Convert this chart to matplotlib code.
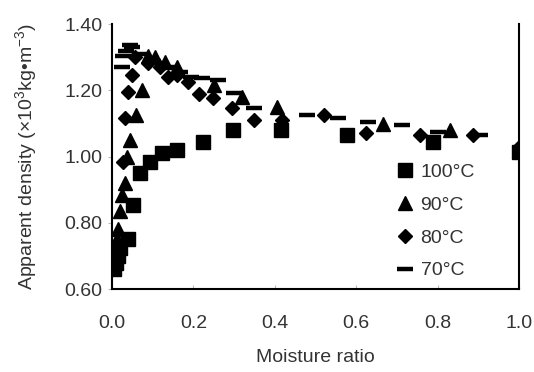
import matplotlib
matplotlib.use("Agg")
import matplotlib.pyplot as plt

plt.rcParams["font.family"] = ["Liberation Sans", "DejaVu Sans"]
plt.rcParams["mathtext.fontset"] = "custom"
plt.rcParams["mathtext.rm"] = "Liberation Sans"
plt.rcParams["mathtext.it"] = "Liberation Sans"

# 100 °C
x100 = [0.005, 0.01, 0.015, 0.02, 0.04, 0.052, 0.07, 0.093, 0.123, 0.16,
        0.224, 0.297, 0.415, 0.577, 0.789, 1.0]
y100 = [0.66, 0.68, 0.70, 0.725, 0.75, 0.855, 0.95, 0.985, 1.01, 1.02,
        1.045, 1.08, 1.08, 1.065, 1.045, 1.015]
# 90 °C
x90 = [0.012, 0.015, 0.02, 0.024, 0.032, 0.038, 0.045, 0.06, 0.074, 0.088,
       0.105, 0.13, 0.16, 0.25, 0.32, 0.405, 0.665, 0.83]
y90 = [0.75, 0.78, 0.835, 0.885, 0.92, 1.0, 1.05, 1.125, 1.2, 1.305,
       1.30, 1.285, 1.27, 1.215, 1.18, 1.15, 1.10, 1.08]
# 80 °C
x80 = [0.027, 0.032, 0.04, 0.05, 0.057, 0.088, 0.118, 0.138, 0.16, 0.187,
       0.213, 0.248, 0.295, 0.35, 0.418, 0.52, 0.625, 0.757, 0.887, 1.0]
y80 = [0.985, 1.117, 1.195, 1.245, 1.30, 1.283, 1.27, 1.24, 1.246, 1.225,
       1.19, 1.177, 1.147, 1.11, 1.11, 1.126, 1.07, 1.065, 1.065, 1.03]
# 70 °C
x70 = [0.025, 0.028, 0.035, 0.044, 0.05, 0.07, 0.1, 0.135, 0.167, 0.195,
       0.22, 0.26, 0.30, 0.35, 0.48, 0.555, 0.63, 0.712, 0.80, 0.905]
y70 = [1.27, 1.305, 1.32, 1.337, 1.33, 1.31, 1.29, 1.27, 1.256, 1.24,
       1.237, 1.23, 1.192, 1.147, 1.126, 1.117, 1.105, 1.095, 1.075, 1.065]

xticks = [0.0, 0.2, 0.4, 0.6, 0.8, 1.0]
yticks = [0.60, 0.80, 1.00, 1.20, 1.40]

text_color = "#333333"
fig = plt.figure(figsize=(5.34, 3.72), dpi=100)
ax = fig.add_axes([0.2097, 0.223, 0.7623, 0.712])

ax.plot(x100, y100, "s", color="black", markersize=9.5, linestyle="none", label="100°C")
ax.plot(x90, y90, "^", color="black", markersize=10, linestyle="none", label="90°C")
ax.plot(x80, y80, "D", color="black", markersize=7.5, linestyle="none", label="80°C")
ax.plot(x70, y70, "_", color="black", markersize=11, markeredgewidth=3.2,
        linestyle="none", label="70°C")

ax.set_xlim(0, 1.0)
ax.set_ylim(0.6, 1.4)
ax.set_xticks(xticks, [f"{t:.1f}" for t in xticks])
ax.set_yticks(yticks, [f"{t:.2f}" for t in yticks])
ax.tick_params(axis="x", direction="in", length=3, color="#bbbbbb", labelsize=14,
               pad=19, labelcolor=text_color)
ax.tick_params(axis="y", direction="out", length=3, color="#bbbbbb", labelsize=14,
               pad=4, labelcolor=text_color)
ax.spines["top"].set_visible(False)
for s in ["left", "bottom", "right"]:
    ax.spines[s].set_linewidth(1.5)

ax.set_xlabel("Moisture ratio", fontsize=14, labelpad=12, color=text_color)
ax.set_ylabel("Apparent density (×10$^3$kg•m$^{-3}$)", fontsize=14, labelpad=18,
              color=text_color)

leg = ax.legend(loc="lower right", bbox_to_anchor=(0.925, -0.015), frameon=False,
                fontsize=14, handletextpad=0.3, handlelength=1.0, labelspacing=0.78,
                borderaxespad=0.3)
for t in leg.get_texts():
    t.set_color(text_color)

fig.savefig("out.png", dpi=100)
